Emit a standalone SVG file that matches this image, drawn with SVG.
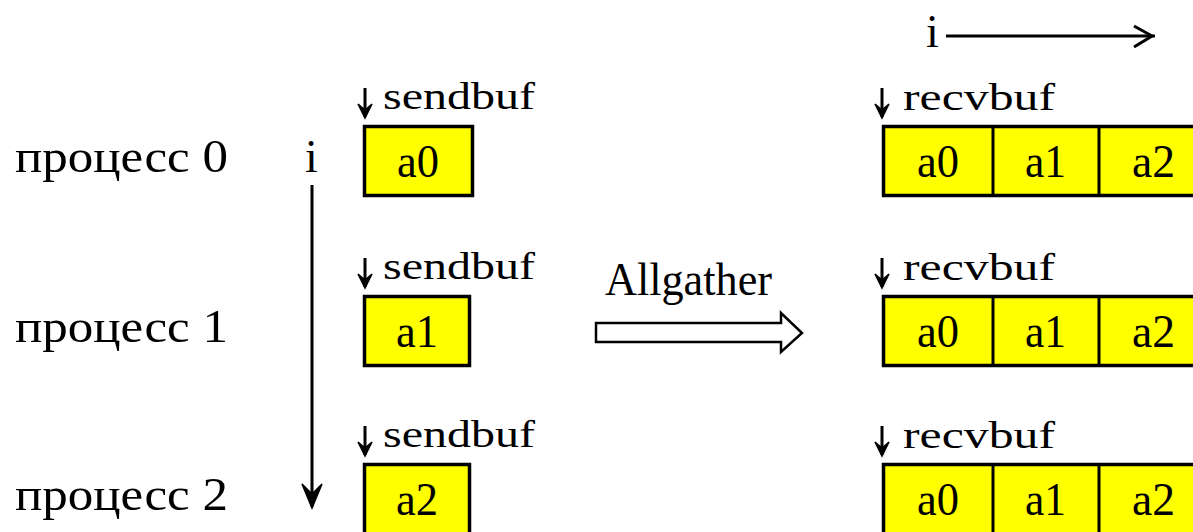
<svg xmlns="http://www.w3.org/2000/svg" width="1193" height="532" viewBox="0 0 1193 532">
<style>
.t{font-family:"Liberation Serif","Times New Roman",serif;fill:#000}
.lbl{font-size:37px}
.big{font-size:46px}
.box{fill:#ffff00;stroke:#000;stroke-width:3.5}
.ln{stroke:#000;stroke-width:3;fill:none}
</style>
<defs>
<g id="darr"><line x1="0" y1="88" x2="0" y2="117" class="ln"/><path d="M-7,104 L0,118 L7,104 L0,110 Z" fill="#000" stroke="#000" stroke-width="1.5"/></g>
</defs>
<g id="proc0"><text class="t big" x="15" y="172" textLength="213" lengthAdjust="spacingAndGlyphs">процесс 0</text></g>
<g id="proc1"><text class="t big" x="15" y="342" textLength="213" lengthAdjust="spacingAndGlyphs">процесс 1</text></g>
<g id="proc2"><text class="t big" x="15" y="510" textLength="213" lengthAdjust="spacingAndGlyphs">процесс 2</text></g>
<g id="i-left"><text class="t big" x="305" y="172">i</text></g>
<g id="send0">
<use href="#darr" x="365" y="0"/>
<text class="t lbl" x="383" y="109" textLength="152" lengthAdjust="spacingAndGlyphs">sendbuf</text>
<rect class="box" x="364.5" y="126.5" width="108" height="69"/>
<text class="t big" x="397" y="177" textLength="42" lengthAdjust="spacingAndGlyphs">a0</text>
</g>
<g id="send1">
<use href="#darr" x="365" y="170"/>
<text class="t lbl" x="383" y="279" textLength="152" lengthAdjust="spacingAndGlyphs">sendbuf</text>
<rect class="box" x="364.5" y="296.5" width="105" height="69"/>
<text class="t big" x="396" y="347" textLength="42" lengthAdjust="spacingAndGlyphs">a1</text>
</g>
<g id="send2">
<use href="#darr" x="365" y="338"/>
<text class="t lbl" x="383" y="447" textLength="152" lengthAdjust="spacingAndGlyphs">sendbuf</text>
<rect class="box" x="364.5" y="464.5" width="105" height="80"/>
<text class="t big" x="396" y="515" textLength="42" lengthAdjust="spacingAndGlyphs">a2</text>
</g>
<g id="i-top"><text class="t big" x="926" y="47">i</text></g>
<g id="allgather"><text class="t big" x="605" y="295" textLength="167" lengthAdjust="spacingAndGlyphs">Allgather</text></g>
<g id="recv0">
<use href="#darr" x="882" y="0"/>
<text class="t lbl" x="903" y="110" textLength="152" lengthAdjust="spacingAndGlyphs">recvbuf</text>
<rect class="box" x="883.5" y="126.5" width="320" height="69"/>
<line class="ln" x1="993" y1="126" x2="993" y2="196"/><line class="ln" x1="1099" y1="126" x2="1099" y2="196"/>
<text class="t big" x="917" y="177" textLength="42" lengthAdjust="spacingAndGlyphs">a0</text>
<text class="t big" x="1025" y="177" textLength="41" lengthAdjust="spacingAndGlyphs">a1</text>
<text class="t big" x="1132" y="177" textLength="43" lengthAdjust="spacingAndGlyphs">a2</text>
</g>
<g id="recv1">
<use href="#darr" x="882" y="170"/>
<text class="t lbl" x="903" y="280" textLength="152" lengthAdjust="spacingAndGlyphs">recvbuf</text>
<rect class="box" x="883.5" y="296.5" width="320" height="69"/>
<line class="ln" x1="993" y1="296" x2="993" y2="366"/><line class="ln" x1="1099" y1="296" x2="1099" y2="366"/>
<text class="t big" x="917" y="347" textLength="42" lengthAdjust="spacingAndGlyphs">a0</text>
<text class="t big" x="1025" y="347" textLength="41" lengthAdjust="spacingAndGlyphs">a1</text>
<text class="t big" x="1132" y="347" textLength="43" lengthAdjust="spacingAndGlyphs">a2</text>
</g>
<g id="recv2">
<use href="#darr" x="882" y="338"/>
<text class="t lbl" x="903" y="448" textLength="152" lengthAdjust="spacingAndGlyphs">recvbuf</text>
<rect class="box" x="883.5" y="464.5" width="320" height="80"/>
<line class="ln" x1="993" y1="464" x2="993" y2="532"/><line class="ln" x1="1099" y1="464" x2="1099" y2="532"/>
<text class="t big" x="917" y="515" textLength="42" lengthAdjust="spacingAndGlyphs">a0</text>
<text class="t big" x="1025" y="515" textLength="41" lengthAdjust="spacingAndGlyphs">a1</text>
<text class="t big" x="1132" y="515" textLength="43" lengthAdjust="spacingAndGlyphs">a2</text>
</g>
<g id="connectors">
<line class="ln" x1="312" y1="185" x2="312" y2="507"/>
<path d="M302,484 L312,508 L322,484 L312,494 Z" fill="#000" stroke="#000" stroke-width="1.5"/>
<line x1="946" y1="36" x2="1155" y2="36" stroke="#000" stroke-width="3"/>
<path d="M1134,26 L1152,36 L1134,47" fill="none" stroke="#000" stroke-width="3"/>
<path d="M596,323 L781,323 L781,313 L802,333 L781,352 L781,342 L596,342 Z" fill="#fff" stroke="#000" stroke-width="2.5"/>
</g>
</svg>
